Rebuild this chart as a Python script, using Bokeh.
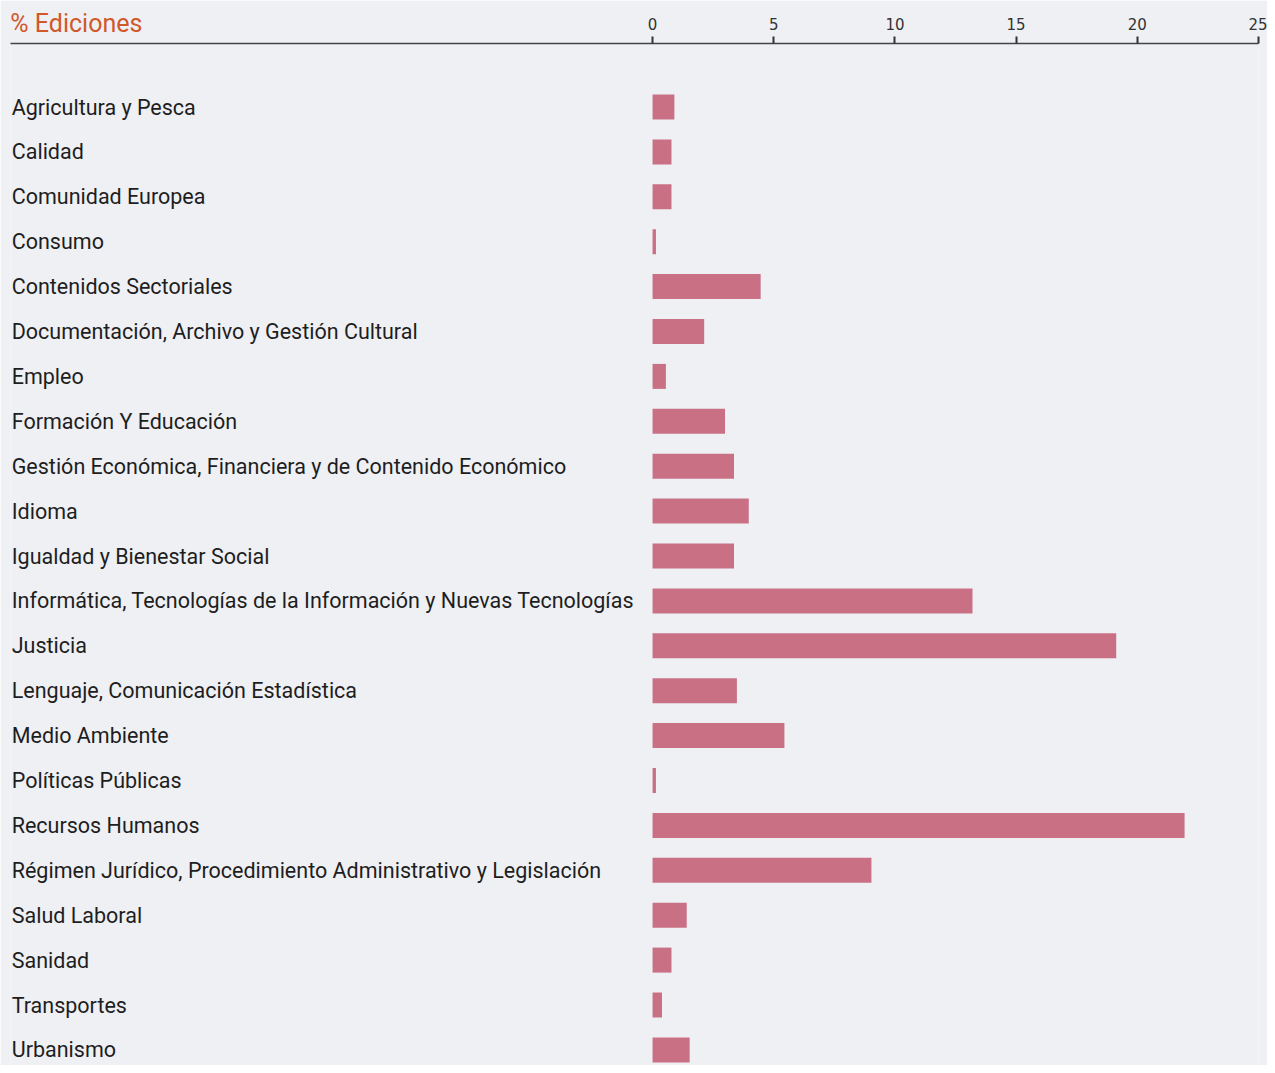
from bokeh.plotting import figure
from bokeh.models import Range1d, FixedTicker, ColumnDataSource
from bokeh.core.properties import value
from bokeh.embed import file_html
from bokeh.resources import INLINE

categories = [
    "Agricultura y Pesca",
    "Calidad",
    "Comunidad Europea",
    "Consumo",
    "Contenidos Sectoriales",
    "Documentación, Archivo y Gestión Cultural",
    "Empleo",
    "Formación Y Educación",
    "Gestión Económica, Financiera y de Contenido Económico",
    "Idioma",
    "Igualdad y Bienestar Social",
    "Informática, Tecnologías de la Información y Nuevas Tecnologías",
    "Justicia",
    "Lenguaje, Comunicación Estadística",
    "Medio Ambiente",
    "Políticas Públicas",
    "Recursos Humanos",
    "Régimen Jurídico, Procedimiento Administrativo y Legislación",
    "Salud Laboral",
    "Sanidad",
    "Transportes",
    "Urbanismo",
]
values = [0.9, 0.78, 0.78, 0.14, 4.46, 2.13, 0.55, 2.99, 3.36, 3.97, 3.36,
          13.2, 19.13, 3.48, 5.44, 0.14, 21.95, 9.03, 1.41, 0.78, 0.39, 1.53]
x_ticks = [0, 5, 10, 15, 20, 25]
title_text = "% Ediciones"

BG = "#eff0f4"
BAR = "#c97085"
n = len(categories)
ypos = [n - 1 - i for i in range(n)]

X_START = -26.49
LABEL_X = -26.44
ROW = 44.9  # px between rows
Y_TOP = 21 + 63.5 / ROW
Y_BOT = Y_TOP - 1022 / ROW

src = ColumnDataSource(dict(cat=categories, val=values, y=ypos,
                            lx=[LABEL_X] * n))

p = figure(width=1267, height=1065, output_backend="svg", toolbar_location=None,
           x_range=Range1d(X_START, 25.0), y_range=Range1d(Y_BOT, Y_TOP),
           x_axis_location="above", min_border_left=10, min_border_right=9,
           min_border_top=43, min_border_bottom=0)
p.background_fill_color = BG
p.border_fill_color = BG
p.outline_line_color = None
p.grid.visible = False
p.yaxis.visible = False

p.hbar(y="y", left=0, right="val", height=25 / ROW, source=src,
       fill_color=BAR, line_color=None)
p.text(x="lx", y="y", text="cat", source=src, text_align="left",
       text_baseline="middle", text_font=value("Roboto"),
       text_font_size="21.5px", text_color="#1e1e1e")

ax = p.xaxis[0]
ax.ticker = FixedTicker(ticks=x_ticks)
ax.axis_line_color = "#444444"
ax.axis_line_width = 1.5
ax.major_tick_line_color = "#333333"
ax.major_tick_line_width = 2
ax.major_tick_out = 7
ax.major_tick_in = 0
ax.minor_tick_line_color = None
ax.major_label_standoff = 7
ax.major_label_text_font = "DejaVu Sans"
ax.major_label_text_font_size = "15px"
ax.major_label_text_color = "#333333"

# title drawn as the axis label, left-aligned via trailing no-break spaces
ax.axis_label = title_text + "\u00a0" * 180
ax.axis_label_align = "center"
ax.axis_label_standoff = -23
ax.axis_label_text_color = "#d0582a"
ax.axis_label_text_font = "Roboto"
ax.axis_label_text_font_size = "25px"
ax.axis_label_text_font_style = "normal"

open("out.html", "w").write(file_html(p, INLINE))
